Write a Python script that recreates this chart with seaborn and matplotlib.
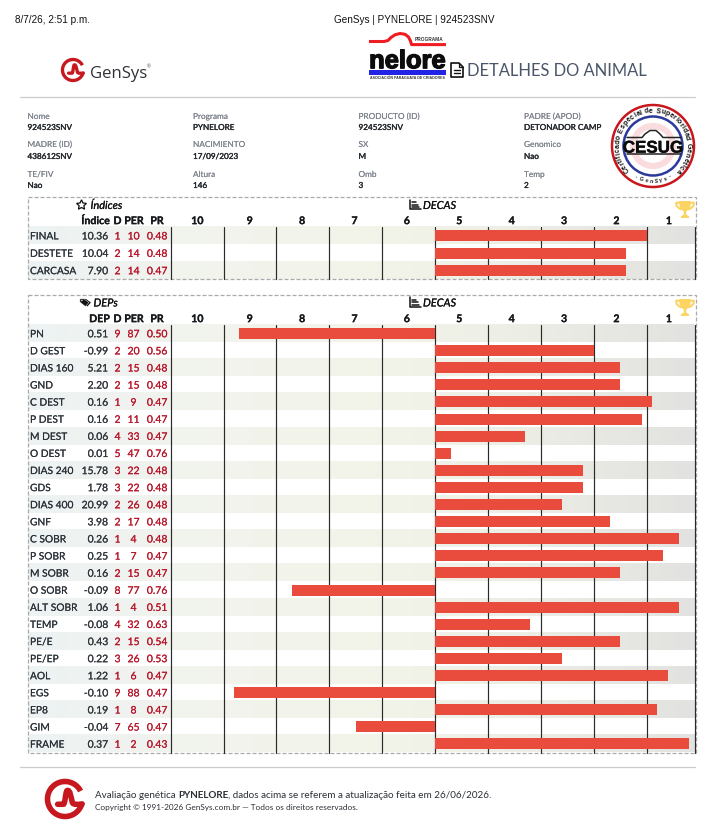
import numpy as np
import pandas as pd
import matplotlib
matplotlib.use("Agg")
import matplotlib.pyplot as plt
import matplotlib.patheffects as pe
import seaborn as sns
from matplotlib.colors import LinearSegmentedColormap
from matplotlib.font_manager import FontProperties
from matplotlib.patches import Circle, PathPatch, Polygon, Rectangle
from matplotlib.path import Path
from matplotlib.textpath import TextToPath

# ---- animal record ----
info_labels = [["Nome", "Programa", "PRODUCTO (ID)", "PADRE (APOD)"],
               ["MADRE (ID)", "NACIMIENTO", "SX", "Genomico"],
               ["TE/FIV", "Altura", "Omb", "Temp"]]
info_values = [["924523SNV", "PYNELORE", "924523SNV", "DETONADOR CAMP"],
               ["438612SNV", "17/09/2023", "M", "Nao"],
               ["Nao", "146", "3", "2"]]

# ---- index table ----
idx_traits = ["FINAL", "DESTETE", "CARCASA"]
idx_value = [10.36, 10.04, 7.90]
idx_deca = [1, 2, 2]
idx_per = [10, 14, 14]
idx_pr = [0.48, 0.48, 0.47]

# ---- EPD table ----
dep_traits = ["PN", "D GEST", "DIAS 160", "GND", "C DEST", "P DEST", "M DEST", "O DEST",
              "DIAS 240", "GDS", "DIAS 400", "GNF", "C SOBR", "P SOBR", "M SOBR", "O SOBR",
              "ALT SOBR", "TEMP", "PE/E", "PE/EP", "AOL", "EGS", "EP8", "GIM", "FRAME"]
dep_value = [0.51, -0.99, 5.21, 2.20, 0.16, 0.16, 0.06, 0.01, 15.78, 1.78, 20.99, 3.98, 0.26,
             0.25, 0.16, -0.09, 1.06, -0.08, 0.43, 0.22, 1.22, -0.10, 0.19, -0.04, 0.37]
dep_deca = [9, 2, 2, 2, 1, 2, 4, 5, 3, 3, 2, 2, 1, 1, 2, 8, 1, 4, 2, 3, 1, 9, 1, 7, 1]
dep_per = [87, 20, 15, 15, 9, 11, 33, 47, 22, 22, 26, 17, 4, 7, 15, 77, 4, 32, 15, 26, 6, 88, 8, 65, 2]
dep_pr = [0.50, 0.56, 0.48, 0.48, 0.47, 0.47, 0.47, 0.76, 0.48, 0.48, 0.48, 0.48, 0.48, 0.47,
          0.47, 0.76, 0.51, 0.63, 0.54, 0.53, 0.47, 0.47, 0.47, 0.47, 0.43]

deca_labels = [10, 9, 8, 7, 6, 5, 4, 3, 2, 1]

W, H = 710, 822
BODY = ["Lato", "DejaVu Sans"]
ARIAL = ["Liberation Sans", "DejaVu Sans"]
RED_TXT = "#b8152a"
DARK = "#2b3036"
BAR = "#e94b3c"

sns.set_theme(style="white")
plt.rcParams["font.family"] = BODY

fig = plt.figure(figsize=(W / 100, H / 100), dpi=100, facecolor="white")
page = fig.add_axes([0, 0, 1, 1], zorder=0)
page.set_xlim(0, W)
page.set_ylim(H, 0)
page.axis("off")


def put(x, y, s, px=10.3, color=DARK, ha="left", weight="normal", style="normal",
        family=None, stroke=0.0, **kw):
    """Write text with its cap height centred on y, sized in pixels."""
    txt = page.text(x, y + 0.36 * px, s, fontsize=px * 0.72, color=color, ha=ha, va="baseline",
                    fontweight=weight, fontstyle=style, family=family or BODY, **kw)
    if stroke:
        txt.set_path_effects([pe.withStroke(linewidth=stroke, foreground=color)])
    return txt


def curved(text, cx, cy, r, start, end, px, color="#111111", clockwise=True):
    """Lay characters along a circle by their widths; angles run clockwise from 12 o'clock."""
    prop = FontProperties(family=ARIAL, weight="bold", size=px * 0.72)
    conv = TextToPath()
    widths = np.array([conv.get_text_width_height_descent(ch, prop, False)[0] for ch in text])
    mids = np.cumsum(widths) - widths / 2
    angles = start + (end - start) * mids / widths.sum()
    for ch, a in zip(text, angles):
        rad = np.radians(a)
        x, y = cx + r * np.sin(rad), cy - r * np.cos(rad)
        rot = -a if clockwise else 180 - a
        page.text(x, y, ch, fontsize=px * 0.72, color=color, ha="center", va="center",
                  rotation=rot, rotation_mode="anchor", fontweight="bold", family=ARIAL)


def gensys_mark(cx, cy, r, lw):
    """Open red ring that runs into a pulse curve."""
    red = "#c8181f"
    t = np.radians(np.linspace(27, 345, 90))
    page.plot(cx + r * np.cos(t), cy - r * np.sin(t), color=red, lw=lw, solid_capstyle="butt")
    verts = [(-0.42, 0.30), (-0.1, 0.30), (0.02, 0.30), (0.02, -0.42), (0.12, -0.48),
             (0.30, -0.55), (0.34, -0.1), (0.42, 0.20), (0.48, 0.34), (0.72, 0.32), (0.98, 0.28)]
    codes = [Path.MOVETO, Path.LINETO, Path.CURVE4, Path.CURVE4, Path.CURVE4, Path.CURVE4,
             Path.CURVE4, Path.CURVE4, Path.CURVE4, Path.CURVE4, Path.CURVE4]
    pts = [(cx + a * r, cy + b * r) for a, b in verts]
    page.add_patch(PathPatch(Path(pts, codes), fc="none", ec=red, lw=lw, capstyle="round"))


def trophy(cx, top):
    gold = "#fcd462"
    s = 1.7

    def P(pts):
        return [(cx + a * s, top + b * s) for a, b in pts]
    page.add_patch(Polygon(P([(-3.4, 0), (3.4, 0), (3.2, 3), (2.2, 5), (0.7, 6.2), (0.7, 8),
                              (2.4, 9), (2.4, 10), (-2.4, 10), (-2.4, 9), (-0.7, 8), (-0.7, 6.2),
                              (-2.2, 5), (-3.2, 3)]), fc=gold, ec="none"))
    for sgn in (-1, 1):
        page.plot(*zip(*P([(sgn * 3.2, 1), (sgn * 5.2, 1), (sgn * 5.0, 2.8), (sgn * 3.6, 4.2),
                           (sgn * 2.4, 4.8)])), color=gold, lw=1.5)


def star(cx, cy, r):
    a = np.radians(90 + 36 * np.arange(10))
    rad = np.where(np.arange(10) % 2 == 0, r, r * 0.48)
    page.add_patch(Polygon(np.c_[cx + rad * np.cos(a), cy - rad * np.sin(a)], closed=True,
                           fc="white", ec="#111111", lw=0.9))


def tags(cx, cy):
    shape = np.array([(-5, -3.6), (-1, -3.6), (4, 0), (0.5, 4), (-5, -0.5)])
    page.add_patch(Polygon(shape + [cx + 1.4, cy], fc="#111111", ec="none"))
    page.add_patch(Polygon(shape + [cx - 0.6, cy], fc="#111111", ec="white", lw=0.3))
    page.add_patch(Circle((cx - 3.6, cy - 2), 0.7, fc="white", ec="none"))


def bars_icon(x, y):
    page.plot([x, x, x + 10.5], [y - 5, y + 4.5, y + 4.5], color="#111111", lw=1.1)
    for dy, ln in zip((-2.6, 0, 2.4), (6, 7.5, 9)):
        page.plot([x + 2.4, x + ln], [y + dy, y + dy], color="#111111", lw=1.1)


row_cmap = LinearSegmentedColormap.from_list(
    "row", [(0, "#edf2f3"), (0.21, "#f1f3ee"), (0.52, "#f3f4e9"), (0.75, "#ecede5"), (1, "#e2e2e0")])


def decile_table(top, first_row, head_y, first_col, traits, values, decas, pers, prs, n_row=17.1):
    """One dashed panel: left-hand figures plus the percentile bars."""
    n = len(traits)
    bottom = first_row + n * n_row

    page.add_patch(Rectangle((27.5, top), 668, bottom - top + 0.2, fc="none", ec="#aaaaaa",
                             lw=0.9, ls=(0, (3.2, 1.6))))
    grad = np.linspace(0, 1, 300)[None, :]
    for i in range(0, n, 2):
        page.imshow(grad, cmap=row_cmap, extent=(28, 695, first_row + (i + 1) * n_row, first_row + i * n_row),
                    aspect="auto", zorder=0.5, interpolation="bilinear")
    page.set_xlim(0, W)
    page.set_ylim(H, 0)

    # headings
    head = dict(px=10.6, weight="bold", color="#16191c", stroke=0.2)
    put(110, head_y, first_col, ha="right", **head)
    put(117.5, head_y, "D", ha="center", **head)
    put(134, head_y, "PER", ha="center", **head)
    put(157, head_y, "PR", ha="center", **head)
    centres = 197.3 + 52.4 * np.arange(10)
    for xc, lab in zip(centres, deca_labels):
        put(xc, head_y, str(lab), ha="center", **head)

    # left-hand figures
    for i in range(n):
        y = first_row + (i + 0.5) * n_row
        put(30, y, traits[i], px=10.2, color="#2a3138", stroke=0.08)
        put(108, y, f"{values[i]:.2f}", px=10.4, ha="right", color="#30353b", stroke=0.12)
        put(117.5, y, str(decas[i]), px=10.4, ha="center", color=RED_TXT, stroke=0.1)
        put(133.5, y, str(pers[i]), px=10.4, ha="center", color=RED_TXT, stroke=0.1)
        put(157, y, f"{prs[i]:.2f}", px=10.4, ha="center", color=RED_TXT, stroke=0.1)

    # percentile bars, drawn outward from the herd median (PER 50)
    ax = fig.add_axes([170.6 / W, 1 - bottom / H, (694.8 - 170.6) / W, (bottom - first_row) / H], zorder=1)
    ax.patch.set_alpha(0)
    frame = pd.DataFrame({"trait": traits, "from_median": 50 - np.array(pers)})
    sns.barplot(data=frame, x="from_median", y="trait", orient="h", color=BAR, saturation=1,
                width=0.64, ax=ax, zorder=3, linewidth=0, edgecolor="none")
    ax.set_xlim(-50, 49.05)
    ax.set_ylim(n - 0.5, -0.5)
    ax.set_xticks(list(range(-50, 50, 10)) + [49.05])
    ax.set_xticklabels([])
    ax.set_yticks([])
    ax.set_xlabel("")
    ax.set_ylabel("")
    ax.grid(axis="x", color="#2a2a2a", lw=0.85)
    ax.grid(axis="y", visible=False)
    ax.set_axisbelow(True)
    for line in ax.get_xgridlines():
        line.set_clip_on(False)
    ax.tick_params(length=0)
    sns.despine(ax=ax, left=True, bottom=True)


# ---- page header ----
put(15, 19, "8/7/26, 2:51 p.m.", px=10, color="#111111", family=ARIAL)
put(414, 19, "GenSys | PYNELORE | 924523SNV", px=10, color="#111111", ha="center", family=ARIAL)

gensys_mark(73, 70, 10.5, 2.4)
put(90, 72, "GenSys", px=16.8, color="#2f3236", family=["Open Sans", "DejaVu Sans"])
put(147, 67, "®", px=4.5, color="#555555")

# programme logo
swoosh = [(369, 41.5), (384, 41.5), (388, 40.5), (391, 37.5), (395, 34.8), (400, 33.5), (405, 34.3),
          (408.5, 37), (410.5, 41), (411.5, 44.6), (446, 44.6)]
page.plot(*zip(*swoosh), color="#ef1c24", lw=2.2, solid_joinstyle="round", solid_capstyle="butt")
put(429, 39.5, "PROGRAMA", px=4.8, weight="bold", ha="center", color="#333333", family=ARIAL)
put(407.5, 59, "nelore", px=25.5, weight="bold", ha="center", color="#0c0c0c", family=ARIAL, stroke=1.0)
page.add_patch(Rectangle((369, 70.5), 77, 4.2, fc="#2323e6", ec="none"))
put(407.5, 77.5, "ASOCIACIÓN PARAGUAYA DE CRIADORES", px=3.6, weight="bold", ha="center",
    color="#333333", family=ARIAL)

# document icon and page title
page.add_patch(Polygon([(451, 63), (459, 63), (463, 67), (463, 77), (451, 77)], fc="white",
                       ec="#111111", lw=1.2, joinstyle="round"))
page.plot([458.5, 458.5, 463], [63, 67, 67], color="#111111", lw=0.9)
for yy in (70.5, 73):
    page.plot([454, 460], [yy, yy], color="#111111", lw=1)
put(467, 70, "DETALHES DO ANIMAL", px=16.5, color="#4a5669", weight="normal")

page.plot([20, 695], [97.5, 97.5], color="#cccccc", lw=0.9)

# ---- record block ----
col_x = [27.5, 193, 358.5, 524]
label_y = [116, 144, 174]
value_y = [127, 156, 185]
for r in range(3):
    for c in range(4):
        put(col_x[c], label_y[r], info_labels[r][c], px=8.25, color="#7f858e", stroke=0.05)
        put(col_x[c], value_y[r], info_values[r][c], px=8.15, color="#23272b", stroke=0.2)

# ---- certification seal ----
sx, sy = 653, 146
page.add_patch(Circle((sx, sy), 41, fc="white", ec="#c8161d", lw=1.8))
page.add_patch(Circle((sx, sy), 29.5, fc="white", ec="#2b3a9b", lw=1.8))
page.add_patch(Circle((sx, sy), 20, fc="none", ec="#fbdcde", lw=4.5))
curved("Certificado Especial de Superioridad Genética", sx, sy, 35, -137, 137, 7.0)
curved("- GenSys -", sx, sy, 35.5, 212, 148, 5.0, clockwise=False)
page.plot([627, 642, 645, 650, 656, 660, 663, 681], [137.5, 137.5, 134, 130.5, 130.5, 134, 137.5, 137.5],
          color="#222222", lw=1.1)
page.plot([627, 681], [154.5, 154.5], color="#222222", lw=1.1)
put(sx, 146.5, "CESUG", px=17, weight="bold", ha="center", color="#0c0c0c", family=ARIAL, stroke=0.3)

# ---- tables ----
section = dict(px=11, style="italic", color="#111111", stroke=0.15)
decile_table(197, 227, 220.3, "Índice", idx_traits, idx_value, idx_deca, idx_per, idx_pr, n_row=17.4)
star(81.5, 205, 5.2)
put(90.5, 205, "Índices", **section)
bars_icon(410, 205)
put(423, 205, "DECAS", **section)
trophy(685, 201)

decile_table(294.5, 325, 318.3, "DEP", dep_traits, dep_value, dep_deca, dep_per, dep_pr)
tags(85.5, 302.5)
put(93.5, 302.5, "DEPs", **section)
bars_icon(410, 302.5)
put(423, 302.5, "DECAS", **section)
trophy(685, 299)

# ---- footer ----
page.plot([20, 695], [766.5, 766.5], color="#cccccc", lw=0.9)
gensys_mark(65, 799, 17.5, 4)

renderer = fig.canvas.get_renderer()
xpos = 95
for part, wt in [("Avaliação genética ", "normal"), ("PYNELORE", "bold"),
                 (", dados acima se referem a atualização feita em 26/06/2026.", "normal")]:
    tx = put(xpos, 794, part.replace(" ", "\u00a0"), px=9.92, color="#2b3036", weight=wt)
    xpos = tx.get_window_extent(renderer).x1
put(95, 807, "Copyright © 1991-2026 GenSys.com.br — Todos os direitos reservados.", px=8.28, color="#2b3036")

fig.savefig("out.png", dpi=100)
